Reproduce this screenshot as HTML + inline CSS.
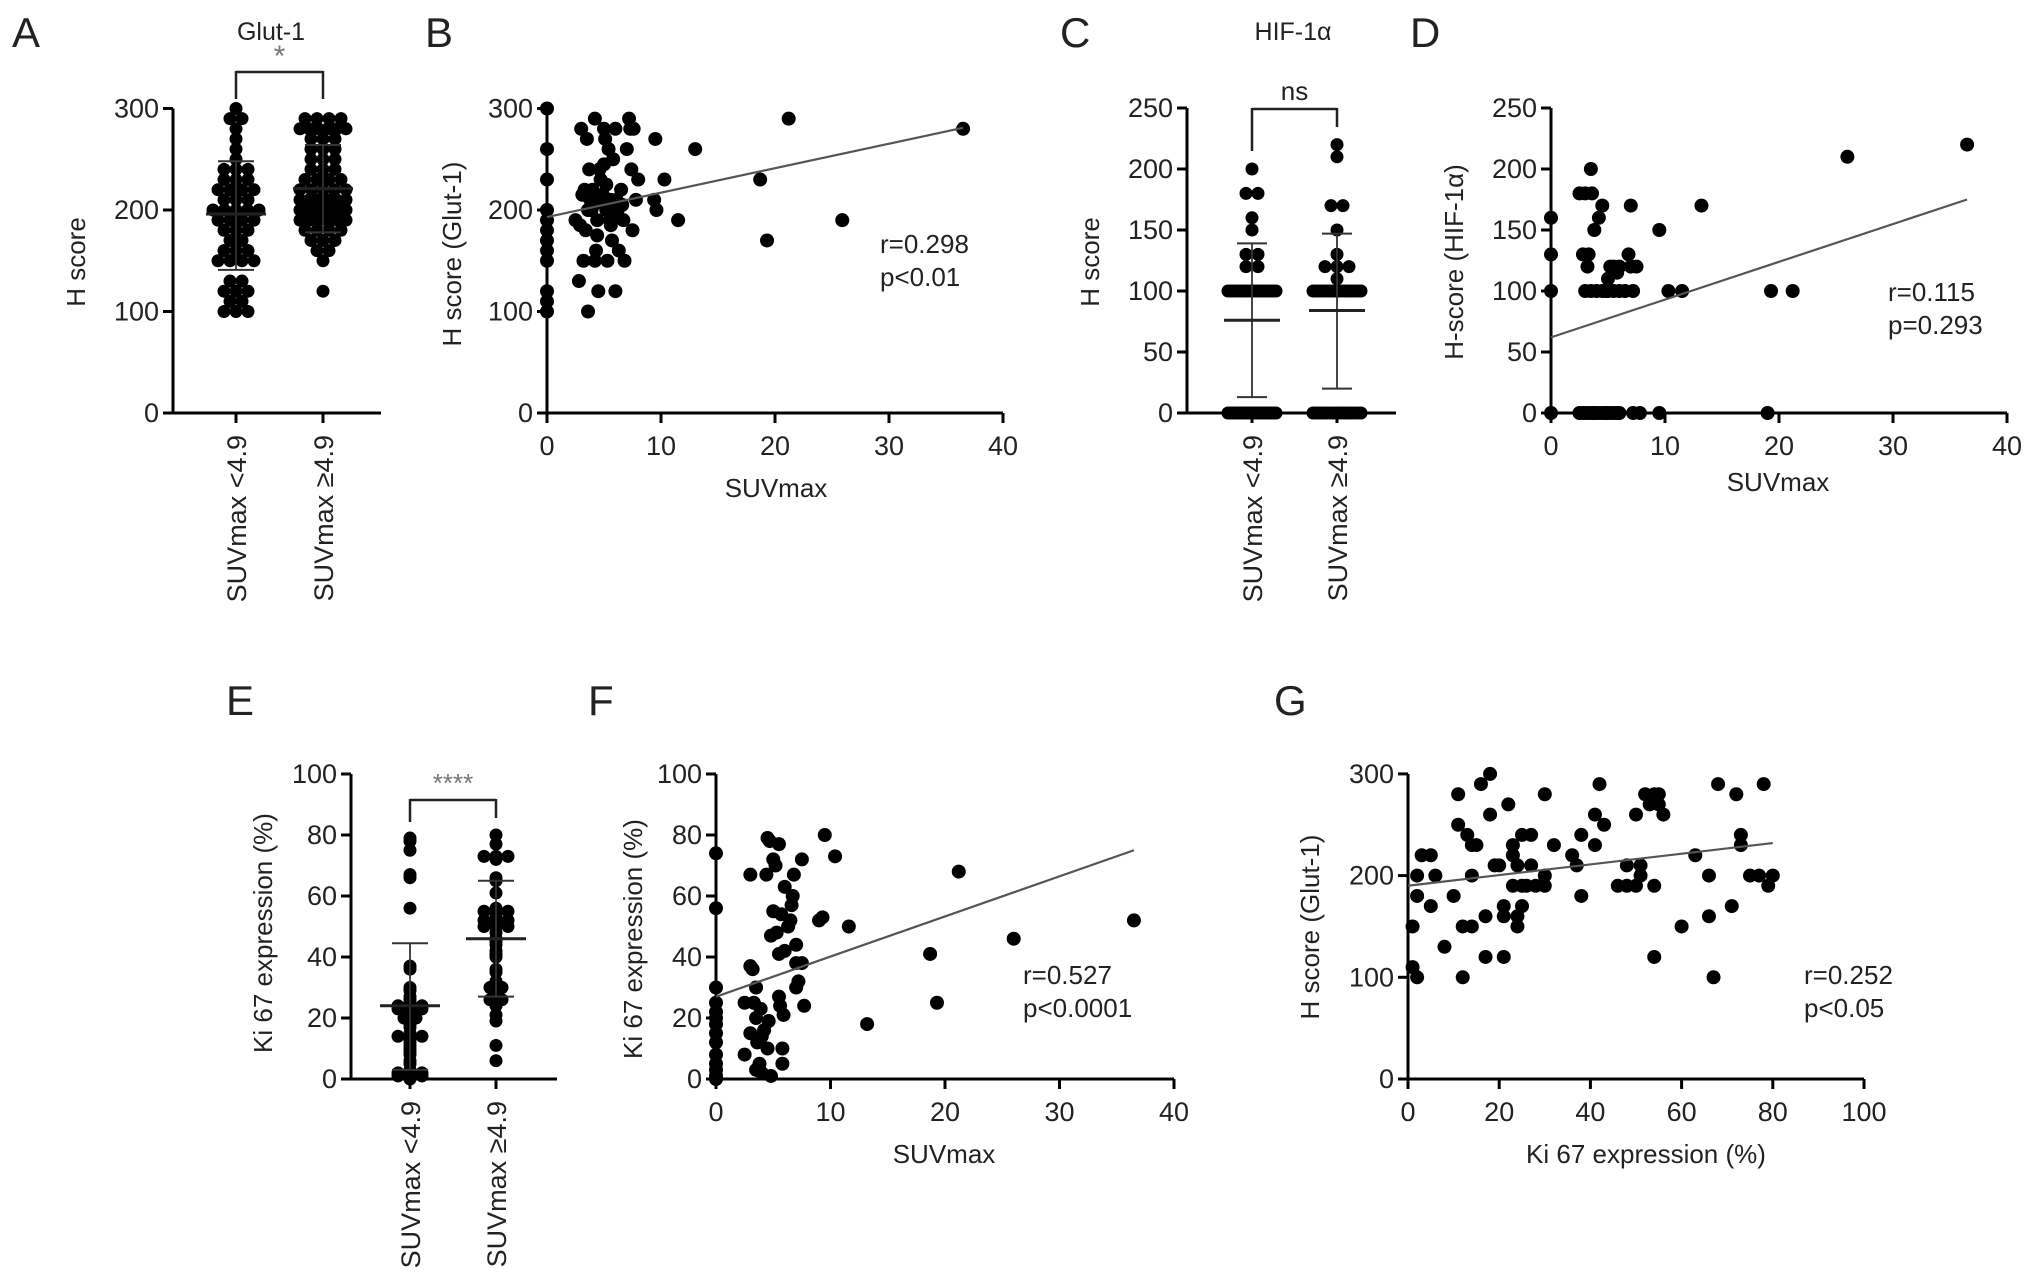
<!DOCTYPE html>
<html><head><meta charset="utf-8"><style>
body{margin:0;background:#fff}
svg{display:block;font-family:"Liberation Sans",Arial,sans-serif}
</style></head><body>
<svg id="fig" width="2032" height="1287" viewBox="0 0 2032 1287" xmlns="http://www.w3.org/2000/svg"></svg>
<script>
// ---------- DATA ----------
const aLow=[300,290,290,280,270,260,250,240,240,240,230,230,230,220,220,220,220,210,210,210,200,200,200,200,200,190,190,190,190,180,180,180,170,170,160,160,160,150,150,150,150,130,130,120,120,120,110,110,100,100,100];
const aHigh=[290,290,290,290,280,280,280,280,280,280,270,270,270,260,260,260,250,250,250,240,240,240,230,230,230,230,220,220,220,220,220,210,210,210,210,210,210,200,200,200,200,200,200,200,190,190,190,190,190,190,180,180,180,180,170,170,170,160,160,150,120];
const aStats=[[196,248,141],[221,264,178]];
const bX=[0,0,0,0,0,0,0,0,0,0,0,0,2.5,2.8,3,3.2,3.3,3.5,3.4,3.6,3.7,3.8,3.9,4,4.2,4.3,4.4,4.5,4.6,4.7,4.8,5,5.1,5.2,5.3,5.4,5.5,5.6,5.7,5.8,6,6,6.2,6.3,6.5,6.7,6.8,7,7.2,7.3,7.4,7.5,7.6,7.8,8,4.1,4.9,5.9,3.1,4.4,5.2,6.6,2.9,3.6,5.0,4.2,5.6,6.1,9.5,9.4,9.6,10.3,11.5,13,18.7,19.3,21.2,25.9,36.5];
const bY=[300,260,230,200,190,180,170,160,150,120,110,100,190,130,280,150,220,270,180,100,240,210,200,220,290,160,190,120,240,230,210,280,270,200,150,260,190,210,170,250,280,120,200,160,220,190,150,260,290,280,240,180,280,210,230,205,215,195,215,175,225,205,185,200,245,150,185,210,270,210,200,230,190,260,230,170,290,190,280];
const bFit=[[0,193],[36.5,281]];
const cLow=[0,0,0,0,0,0,0,0,0,0,0,0,0,0,0,0,0,0,0,0,100,100,100,100,100,100,100,100,100,100,100,100,100,100,100,100,120,120,130,130,150,160,180,180,200];
const cHigh=[0,0,0,0,0,0,0,0,0,0,0,0,0,0,0,100,100,100,100,100,100,100,100,100,100,100,100,100,100,100,100,110,120,120,120,130,150,170,170,210,220];
const cStats=[[76,139,13],[84,147,20]];
const dX=[0,0,0,0,2.5,2.8,3,3.2,3.0,3.3,3.5,3.6,3.8,4.2,4.5,3.5,4,4.5,5,5,5.2,5.5,5.5,6,6,6.5,6.8,7,7,7.2,7.5,4.8,5.8,9.5,10.3,11.5,13.2,19.3,21.2,26,36.5,2.5,3,3.3,3.6,4,4.3,4.6,5,5.3,5.6,6,2.8,3.8,4.8,5.8,7.2,7.8,9.5,19];
const dY=[160,130,100,0,180,130,180,120,100,130,200,180,150,160,170,100,100,100,100,110,120,120,100,100,120,100,130,120,170,100,120,100,115,150,100,100,170,100,100,210,220,0,0,0,0,0,0,0,0,0,0,0,0,0,0,0,0,0,0,0];
const dFit=[[0,62],[36.5,175]];
const eLow=[79,78,75,67,66,56,37,36,30,29,27,26,25,24,24,24,23,23,23,22,20,20,19,18,17,15,14,14,14,13,12,11,10,9,8,6,5,3,2,2,2,1,1,1,0];
const eHigh=[80,77,73,73,73,72,66,65,61,56,55,55,55,54,53,52,52,52,51,50,50,50,48,46,45,44,42,41,40,36,35,32,30,30,29,28,27,26,26,24,21,19,11,6];
const eStats=[[24,44.5,3],[46,65,27]];
const fX=[0,0,0,0,0,0,0,0,0,0,0,0,0,0,2.5,2.5,3,3,3.2,3.3,3,3.5,3.5,3.6,3.8,3.5,3.9,4,4,4.2,4.5,4.7,4.4,4.5,4.8,4.6,4.8,5,5,5.2,5.3,5.5,5.5,5.5,5.8,5.8,5.6,5.9,5.7,6,6,6.3,6.5,6.6,6.7,6.8,7,7,7,7.2,7.5,7.5,7.7,9,9.3,9.5,10.4,11.6,13.2,18.7,19.3,21.2,26,36.5];
const fY=[74,56,30,25,22,20,18,15,12,8,5,3,1,0,25,8,67,37,36,25,15,30,20,12,5,3,23,14,2,16,79,78,67,10,1,19,47,55,72,70,48,41,77,27,5,10,24,21,54,63,42,50,52,57,60,67,38,30,44,32,72,38,24,52,53,80,73,50,18,41,25,68,46,52];
const fFit=[[0,27],[36.5,75]];
const gX=[1,1,2,2,2,3,5,5,6,8,10,11,11,12,12,13,14,14,14,15,16,17,17,18,18,19,20,21,21,21,22,23,23,23,24,24,24,25,25,25,26,27,27,28,30,30,30,32,36,37,38,38,41,41,42,43,46,48,48,50,50,51,51,52,53,54,54,54,55,55,56,60,63,66,66,67,68,71,72,73,73,75,77,78,79,80];
const gY=[150,110,100,180,200,220,220,170,200,130,180,250,280,150,100,240,150,200,230,230,290,160,120,300,260,210,210,120,170,160,270,190,220,230,210,160,150,240,170,190,190,240,210,190,280,190,200,230,220,210,180,240,230,260,290,250,190,190,210,260,190,210,200,280,270,280,190,120,270,280,260,150,220,200,160,100,290,170,280,240,230,200,200,290,190,200];
const gFit=[[0,190],[80,232]];
const suvTicks=[0,10,20,30,40];
const ki67Ticks=[0,20,40,60,80,100];

// ---------- HELPERS ----------
const NS="http://www.w3.org/2000/svg";
const svg=document.getElementById('fig');
function el(tag,attrs,parent,txt){const e=document.createElementNS(NS,tag);for(const k in attrs)e.setAttribute(k,attrs[k]);if(txt!==undefined)e.textContent=txt;(parent||svg).appendChild(e);return e;}
function grp(name){const g=el('g',{});


return g;}
function line(g,x1,y1,x2,y2,w,c,name){const l=el('line',{x1,y1,x2,y2,stroke:c||'#000','stroke-width':w||3},g);


return l;}
function text(g,x,y,s,size,anchor,name,rot,fill){const a={x,y,'font-size':size,'text-anchor':anchor||'middle',fill:fill||'#222'};if(rot)a.transform=`rotate(-90 ${x} ${y})`;const t=el('text',a,g,s);


return t;}
function dot(g,x,y,r,name){const c=el('circle',{cx:x,cy:y,r:r||6.5,fill:'#000'},g);


return c;}
function yAxis(g,ax,y0,pxPer,ticks){const sy=v=>y0-v*pxPer;
line(g,ax,sy(0)+1.5,ax,sy(ticks[ticks.length-1]),3);
ticks.forEach(t=>{line(g,ax-10,sy(t),ax,sy(t),3,'#000','y-tick');text(g,ax-14,sy(t)+9,String(t),27,'end','y-tick-label');});return sy;}

function scatter(p){const g=grp(p.name);
const sy=yAxis(g,p.ax,p.y0,p.ypx,p.yTicks);const sx=v=>p.ax+v*p.xpx;
line(g,p.ax-10,p.y0,sx(p.xTicks[p.xTicks.length-1]),p.y0,3);
p.xTicks.forEach(t=>{line(g,sx(t),p.y0,sx(t),p.y0+10,3,'#000','x-tick');text(g,sx(t),p.y0+42,String(t),27,'middle','x-tick-label');});
p.xs.forEach((x,i)=>dot(g,sx(x),sy(p.ys[i]),7,'data-point'));
const f=p.fit;line(g,sx(f[0][0]),sy(f[0][1]),sx(f[1][0]),sy(f[1][1]),2.2,'#555','regression-line');
text(g,p.xlab[0],p.xlab[1],p.xlabel,26,'middle','x-axis-title');
text(g,p.ylab[0],p.ylab[1],p.ylabel,26,'middle','y-axis-title',true);
text(g,p.stat[0],p.stat[1],p.r,26,'start','r-value');
text(g,p.stat[0],p.stat[1]+33,p.pv,26,'start','p-value');
text(g,p.letter[0],p.letter[1],p.letter[2],42,'start','panel-letter');}

function swarm(g,vals,cx,sy,r,maxW){const cnt={};vals.forEach(v=>cnt[v]=(cnt[v]||0)+1);const idx={};
vals.forEach(v=>{const n=cnt[v];const i=idx[v]=(idx[v]||0);idx[v]++;const step=Math.min(2*r-1,maxW/Math.max(n-1,1));dot(g,cx+(i-(n-1)/2)*step,sy(v),r,'data-point');});}

function column(p){const g=grp(p.name);
const sy=yAxis(g,p.ax,p.y0,p.ypx,p.yTicks);
line(g,p.ax-8,p.y0,p.xend,p.y0,3);
p.cats.forEach((cx,k)=>{line(g,cx,p.y0,cx,p.y0+10,3,'#000','x-tick');
text(g,cx+10,p.y0+22,k?'SUVmax \u22654.9':'SUVmax <4.9',27,'end','category-label',true);
swarm(g,p.groups[k],cx,sy,6.5,p.maxW);
const s=p.stats[k];line(g,cx,sy(s[1]),cx,sy(s[2]),1.8,'#333','sd-bar');
line(g,cx-p.cap,sy(s[1]),cx+p.cap,sy(s[1]),2,'#333','sd-cap');line(g,cx-p.cap,sy(s[2]),cx+p.cap,sy(s[2]),2,'#333','sd-cap');
line(g,cx-p.mw,sy(s[0]),cx+p.mw,sy(s[0]),3,'#222','mean-line');});
const b=p.br;line(g,p.cats[0],b[0],p.cats[1],b[0],2.5,'#222','significance-bracket');
line(g,p.cats[0],b[0]-1,p.cats[0],b[1],2.5,'#222','significance-bracket');line(g,p.cats[1],b[0]-1,p.cats[1],b[2],2.5,'#222','significance-bracket');
text(g,(p.cats[0]+p.cats[1])/2,b[3],p.sig,p.sigSize||26,'middle','significance-label',false,p.sigFill);
text(g,p.ylab[0],p.ylab[1],p.ylabel,26,'middle','y-axis-title',true);
if(p.title)text(g,p.title[0],p.title[1],p.title[2],25,'middle','panel-title');
text(g,p.letter[0],p.letter[1],p.letter[2],42,'start','panel-letter');}

// ---------- PANELS ----------
column({name:'panel-a',ax:173,y0:413,ypx:1.015,yTicks:[0,100,200,300],xend:381,cats:[236,323],groups:[aLow,aHigh],stats:aStats,maxW:46,cap:18,mw:30,br:[72,99,99,66],sig:'*',sigSize:30,sigFill:'#777',ylab:[85,262],ylabel:'H score',title:[271,40,'Glut-1'],letter:[12,47,'A']});
scatter({name:'panel-b',ax:547,y0:413,ypx:1.015,yTicks:[0,100,200,300],xpx:11.4,xTicks:suvTicks,xs:bX,ys:bY,fit:bFit,xlab:[776,497],xlabel:'SUVmax',ylab:[461,254],ylabel:'H score (Glut-1)',stat:[880,253],r:'r=0.298',pv:'p<0.01',letter:[425,47,'B']});
column({name:'panel-c',ax:1187,y0:413,ypx:1.22,yTicks:[0,50,100,150,200,250],xend:1396,cats:[1252,1337],groups:[cLow,cHigh],stats:cStats,maxW:48,cap:15,mw:28,br:[109,151,127,100],sig:'ns',ylab:[1099,262],ylabel:'H score',title:[1293,40,'HIF-1\u03b1'],letter:[1060,47,'C']});
scatter({name:'panel-d',ax:1551,y0:413,ypx:1.22,yTicks:[0,50,100,150,200,250],xpx:11.4,xTicks:suvTicks,xs:dX,ys:dY,fit:dFit,xlab:[1778,491],xlabel:'SUVmax',ylab:[1463,262],ylabel:'H-score (HIF-1\u03b1)',stat:[1888,301],r:'r=0.115',pv:'p=0.293',letter:[1410,47,'D']});
column({name:'panel-e',ax:351,y0:1079,ypx:3.05,yTicks:[0,20,40,60,80,100],xend:557,cats:[410,496],groups:[eLow,eHigh],stats:eStats,maxW:46,cap:18,mw:30,br:[800,822,818,792],sig:'****',sigSize:26,sigFill:'#777',ylab:[272,933],ylabel:'Ki 67 expression (%)',letter:[226,715,'E']});
scatter({name:'panel-f',ax:716,y0:1079,ypx:3.05,yTicks:[0,20,40,60,80,100],xpx:11.45,xTicks:suvTicks,xs:fX,ys:fY,fit:fFit,xlab:[944,1163],xlabel:'SUVmax',ylab:[642,939],ylabel:'Ki 67 expression (%)',stat:[1023,984],r:'r=0.527',pv:'p<0.0001',letter:[588,715,'F']});
scatter({name:'panel-g',ax:1408,y0:1079,ypx:1.017,yTicks:[0,100,200,300],xpx:4.56,xTicks:ki67Ticks,xs:gX,ys:gY,fit:gFit,xlab:[1646,1163],xlabel:'Ki 67 expression (%)',ylab:[1319,927],ylabel:'H score (Glut-1)',stat:[1804,984],r:'r=0.252',pv:'p<0.05',letter:[1274,715,'G']});
</script>
</body></html>
